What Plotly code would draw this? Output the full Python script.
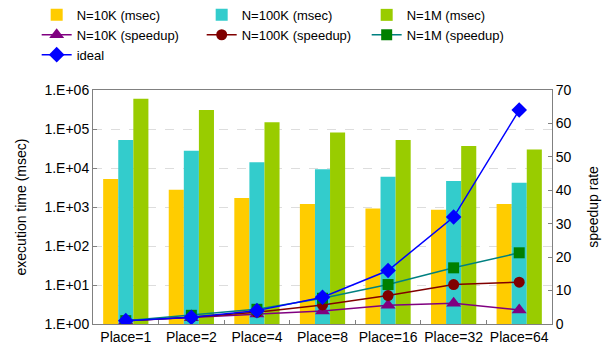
import plotly.graph_objects as go

# Data
places = ["Place=1", "Place=2", "Place=4", "Place=8", "Place=16", "Place=32", "Place=64"]
time_10k = [5200, 2760, 1700, 1200, 910, 850, 1200]
time_100k = [52000, 27700, 14000, 9300, 6000, 4650, 4200]
time_1m = [600000, 308000, 148000, 81000, 52000, 36600, 30000]
speedup_10k = [1.0, 1.9, 3.0, 3.9, 5.6, 6.2, 4.2]
speedup_100k = [1.0, 2.0, 3.5, 5.7, 8.5, 11.8, 12.5]
speedup_1m = [1.0, 2.6, 4.4, 7.7, 11.8, 16.8, 21.3]
ideal = [1, 2, 4, 8, 16, 32, 64]

FONT = "Liberation Sans, Arial, sans-serif"

fig = go.Figure()

for name, vals, color in [
    ("N=10K (msec)", time_10k, "#FFCC00"),
    ("N=100K (msec)", time_100k, "#33CCCC"),
    ("N=1M (msec)", time_1m, "#99CC00"),
]:
    fig.add_trace(go.Bar(x=places, y=vals, name=name, marker_color=color,
                         marker_line_width=0, yaxis="y"))

for name, vals, lcolor, mcolor, sym, size in [
    ("N=10K (speedup)", speedup_10k, "#800080", "#800080", "triangle-up", 13),
    ("N=100K (speedup)", speedup_100k, "#800000", "#800000", "circle", 11),
    ("N=1M (speedup)", speedup_1m, "#008080", "#008000", "square", 11),
    ("ideal", ideal, "#0000FF", "#0000FF", "diamond", 12),
]:
    fig.add_trace(go.Scatter(x=places, y=vals, name=name, yaxis="y2", mode="lines+markers",
                             line=dict(color=lcolor, width=1.5),
                             marker=dict(color=mcolor, symbol=sym, size=size)))

fig.update_layout(
    width=611, height=358,
    margin=dict(l=93, r=59, t=90, b=34, autoexpand=False),
    paper_bgcolor="white", plot_bgcolor="white",
    font=dict(family=FONT, size=13, color="black"),
    barmode="group", bargap=0.31, bargroupgap=0,
    showlegend=True,
    legend=dict(orientation="h", x=-0.1227, y=1.385, xanchor="left", yanchor="top",
                xref="paper", yref="paper", entrywidth=120, entrywidthmode="pixels",
                font=dict(size=13, family=FONT), tracegroupgap=0, itemwidth=30,
                traceorder="normal", bgcolor="rgba(0,0,0,0)"),
    xaxis=dict(type="category", showline=True, linecolor="#808080", linewidth=1,
               mirror=True, ticks="inside", tickson="boundaries", ticklen=4,
               tickcolor="#808080", tickfont=dict(size=14), tickangle=0, showgrid=False),
    yaxis=dict(type="log", range=[0, 6], tickvals=[1, 10, 100, 1000, 1e4, 1e5, 1e6],
               ticktext=["1.E+00", "1.E+01", "1.E+02", "1.E+03", "1.E+04", "1.E+05", "1.E+06"],
               showline=True, linecolor="#808080", linewidth=1, mirror=False,
               ticks="inside", ticklen=4, tickcolor="#808080",
               showgrid=True, gridcolor="#DDDDDD", griddash="dash", gridwidth=1,
               tickfont=dict(size=14), zeroline=False,
               title=dict(text="execution time (msec)", font=dict(size=14), standoff=14)),
    yaxis2=dict(overlaying="y", side="right", range=[0, 70], dtick=10,
                showline=True, linecolor="#808080", linewidth=1,
                ticks="inside", ticklen=4, tickcolor="#808080", showgrid=False,
                tickfont=dict(size=14), zeroline=False,
                title=dict(text="speedup rate", font=dict(size=14), standoff=17)),
)

fig.write_html("out.html")
